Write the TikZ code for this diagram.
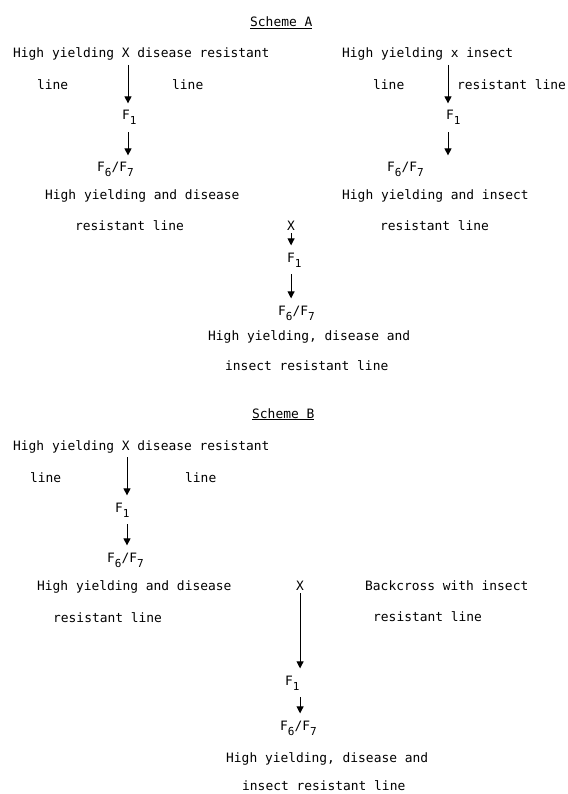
\documentclass[tikz,border=0pt]{standalone}
\usepackage{fontspec}
\setmainfont{DejaVu Sans Mono}
\usepackage{tikz}
\usetikzlibrary{arrows.meta}
\newcommand{\lo}[1]{\raisebox{-5pt}{\fontsize{11}{11}\selectfont #1}}

\begin{document}
\begin{tikzpicture}[x=1pt,y=-1pt,
	every node/.style={inner sep=0pt,font=\fontsize{12.9}{15}\selectfont},
	lbl/.style={anchor=base west},
	gen/.style={anchor=base west,inner ysep=7pt},
	cross/.style={anchor=base west,inner ysep=3pt},
	arr/.style={line width=0.9pt,-{Triangle[length=7pt,width=7pt]}}]
	\useasboundingbox (0,0) rectangle (567,794);
	\path (250,27) node[lbl] (tA) {\underline{Scheme A}}
	(13,58) node[lbl] (hyA) {High yielding X disease resistant}
	(37,90) node[lbl] (lnA1) {line}
	(172,90) node[lbl] (lnA2) {line}
	(122,120) node[gen] (fA1) {F\lo{1}}
	(97,172) node[gen] (fA2) {F\lo{6}/F\lo{7}}
	(45,200) node[lbl] (hdA) {High yielding and disease}
	(75,230) node[lbl] (rlA) {resistant line}
	(128,65) coordinate (cA);
	\path (342,58) node[lbl] (hyB) {High yielding x insect}
	(373,90) node[lbl] (lnB1) {line}
	(457,90) node[lbl] (lnB2) {resistant line}
	(446,120) node[gen] (fB1) {F\lo{1}}
	(387,172) node[gen] (fB2) {F\lo{6}/F\lo{7}}
	(342,200) node[lbl] (hiB) {High yielding and insect}
	(380,230) node[lbl] (rlB) {resistant line}
	(448,65) coordinate (cB);
	\path (287,230) node[cross] (xC) {X}
	(287,262) node[gen] (fC1) {F\lo{1}}
	(278,315) node[gen] (fC2) {F\lo{6}/F\lo{7}}
	(208,340) node[lbl] (hdiC) {High yielding, disease and}
	(225,370) node[lbl] (irC) {insect resistant line};
	\path (252,418) node[lbl] (tB) {\underline{Scheme B}}
	(13,450) node[lbl] (hyD) {High yielding X disease resistant}
	(30,482) node[lbl] (lnD1) {line}
	(185,482) node[lbl] (lnD2) {line}
	(115,512) node[gen] (fD1) {F\lo{1}}
	(107,562) node[gen] (fD2) {F\lo{6}/F\lo{7}}
	(37,590) node[lbl] (hdD) {High yielding and disease}
	(53,622) node[lbl] (rlD) {resistant line}
	(127,457) coordinate (cD);
	\path (296,590) node[cross] (xE) {X}
	(365,590) node[lbl] (bcE) {Backcross with insect}
	(373,621) node[lbl] (rlE) {resistant line}
	(285,685) node[gen] (fE1) {F\lo{1}}
	(280,730) node[gen] (fE2) {F\lo{6}/F\lo{7}}
	(226,762) node[lbl] (hdiE) {High yielding, disease and}
	(242,790) node[lbl] (irE) {insect resistant line};
	\draw[arr] (cA) -- (cA |- fA1.north);
	\draw[arr] (cA |- fA1.south) -- (cA |- fA2.north);
	\draw[arr] (cB) -- (cB |- fB1.north);
	\draw[arr] (cB |- fB1.south) -- (cB |- fB2.north);
	\draw[arr] (xC.south) -- (xC.south |- fC1.north);
	\draw[arr] (xC.south |- fC1.south) -- (xC.south |- fC2.north);
	\draw[arr] (cD) -- (cD |- fD1.north);
	\draw[arr] (cD |- fD1.south) -- (cD |- fD2.north);
	\draw[arr] (xE.south) -- (xE.south |- fE1.north);
	\draw[arr] (xE.south |- fE1.south) -- (xE.south |- fE2.north);
\end{tikzpicture}
\end{document}
